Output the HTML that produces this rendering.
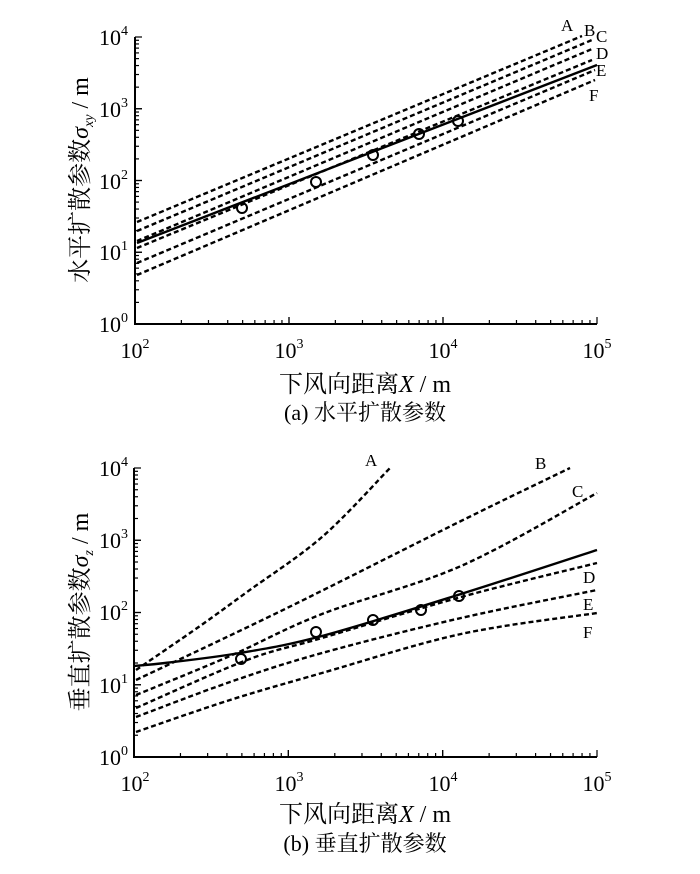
<!DOCTYPE html>
<html><head><meta charset="utf-8"><style>
html,body{margin:0;padding:0;background:#fff;}
svg{display:block;}
text{font-family:"Liberation Serif","Noto Serif CJK SC","Noto Sans CJK SC",serif;fill:#000;}
</style></head><body>
<svg id="s" width="700" height="874" viewBox="0 0 700 874" xmlns="http://www.w3.org/2000/svg">
<g id="g" stroke="#000" fill="none"></g>
<g font-size="22">
<text x="128" y="45" text-anchor="end">10<tspan font-size="14" dy="-10">4</tspan></text>
<text x="128" y="117" text-anchor="end">10<tspan font-size="14" dy="-10">3</tspan></text>
<text x="128" y="189" text-anchor="end">10<tspan font-size="14" dy="-10">2</tspan></text>
<text x="128" y="260" text-anchor="end">10<tspan font-size="14" dy="-10">1</tspan></text>
<text x="128" y="332" text-anchor="end">10<tspan font-size="14" dy="-10">0</tspan></text>
<text x="135" y="358" text-anchor="middle">10<tspan font-size="14" dy="-10">2</tspan></text>
<text x="289" y="358" text-anchor="middle">10<tspan font-size="14" dy="-10">3</tspan></text>
<text x="443" y="358" text-anchor="middle">10<tspan font-size="14" dy="-10">4</tspan></text>
<text x="597" y="358" text-anchor="middle">10<tspan font-size="14" dy="-10">5</tspan></text>
<text x="365" y="392" text-anchor="middle" font-size="24">下风向距离<tspan font-style="italic">X</tspan> / m</text>
<text x="365" y="420" text-anchor="middle" font-size="22">(a) 水平扩散参数</text>
<text transform="translate(88,180) rotate(-90)" text-anchor="middle" font-size="24">水平扩散参数<tspan font-style="italic">σ</tspan><tspan font-size="14" dy="5" font-style="italic">xy</tspan><tspan dy="-5"> / m</tspan></text>
<g font-size="17">
<text x="561" y="31">A</text><text x="584" y="36">B</text><text x="596" y="42">C</text>
<text x="596" y="59">D</text><text x="596" y="76">E</text><text x="589" y="101">F</text>
</g>

<text x="128" y="476" text-anchor="end">10<tspan font-size="14" dy="-10">4</tspan></text>
<text x="128" y="548" text-anchor="end">10<tspan font-size="14" dy="-10">3</tspan></text>
<text x="128" y="620" text-anchor="end">10<tspan font-size="14" dy="-10">2</tspan></text>
<text x="128" y="693" text-anchor="end">10<tspan font-size="14" dy="-10">1</tspan></text>
<text x="128" y="765" text-anchor="end">10<tspan font-size="14" dy="-10">0</tspan></text>
<text x="135" y="791" text-anchor="middle">10<tspan font-size="14" dy="-10">2</tspan></text>
<text x="289" y="791" text-anchor="middle">10<tspan font-size="14" dy="-10">3</tspan></text>
<text x="443" y="791" text-anchor="middle">10<tspan font-size="14" dy="-10">4</tspan></text>
<text x="597" y="791" text-anchor="middle">10<tspan font-size="14" dy="-10">5</tspan></text>
<text x="365" y="822" text-anchor="middle" font-size="24">下风向距离<tspan font-style="italic">X</tspan> / m</text>
<text x="365" y="851" text-anchor="middle" font-size="22">(b) 垂直扩散参数</text>
<text transform="translate(88,612) rotate(-90)" text-anchor="middle" font-size="24">垂直扩散参数<tspan font-style="italic">σ</tspan><tspan font-size="14" dy="5" font-style="italic">z</tspan><tspan dy="-5"> / m</tspan></text>
<g font-size="17">
<text x="365" y="466">A</text><text x="535" y="469">B</text><text x="572" y="497">C</text>
<text x="583" y="583">D</text><text x="583" y="610">E</text><text x="583" y="638">F</text>
</g>
</g>
</svg>
<script>
var g=document.getElementById('g'),NS="http://www.w3.org/2000/svg";
function el(t,a){var e=document.createElementNS(NS,t);for(var k in a)e.setAttribute(k,a[k]);g.appendChild(e);return e;}
function axes(L,R,T,B){
 el('path',{d:'M'+L+' '+T+'V'+B+'H'+R,'stroke-width':2});
 var dx=(R-L)/3,dy=(B-T)/4;
 for(var d=0;d<3;d++)for(var m=1;m<=10;m++){var x=L+dx*(d+Math.log10(m));if(d==2&&m==10)x=R;
  var len=(m==1||m==10)?7:4; el('line',{x1:x,y1:B,x2:x,y2:B-len,'stroke-width':1.2});}
 for(var d=0;d<4;d++)for(var m=1;m<=10;m++){var y=B-dy*(d+Math.log10(m));
  var len=(m==1||m==10)?7:4; el('line',{x1:L,y1:y,x2:L+len,y2:y,'stroke-width':1.2});}
}
function pl(p,dash){
 var d='M'+p[0][0]+' '+p[0][1];
 for(var i=0;i<p.length-1;i++){
  var p0=p[i-1]||p[i],p1=p[i],p2=p[i+1],p3=p[i+2]||p2;
  var c1=[p1[0]+(p2[0]-p0[0])/6,p1[1]+(p2[1]-p0[1])/6],c2=[p2[0]-(p3[0]-p1[0])/6,p2[1]-(p3[1]-p1[1])/6];
  d+='C'+c1.join(' ')+' '+c2.join(' ')+' '+p2.join(' ');
 }
 var a={d:d,'stroke-width':2.4,'stroke-linejoin':'round'};if(dash)a['stroke-dasharray']='5 3';el('path',a);}
function circ(pts){pts.forEach(function(p){el('circle',{cx:p[0],cy:p[1],r:5,'stroke-width':2,fill:'none'});});}
axes(135,597,37,324);
pl([[137,222],[582,36]],1);
pl([[137,231],[592,40]],1);
pl([[137,241],[592,49]],1);
pl([[137,248],[592,60]],1);
pl([[137,263],[595,70]],1);
pl([[137,275],[595,80]],1);
pl([[137,243],[597,65]],0);
circ([[242,208],[316,182],[373,155],[419,134],[458,121]]);
axes(134,597,468,757);
pl([[136,670],[200,626],[247,592],[322,537],[390,468]],1);
pl([[136,680],[285,609],[461,521],[570,468]],1);
pl([[136,695],[230,656],[322,614],[461,566],[597,493]],1);
pl([[136,708],[247,660],[322,638],[461,597],[597,563]],1);
pl([[136,717],[230,682],[322,653],[461,618],[597,590]],1);
pl([[136,732],[230,700],[322,673],[461,634],[597,613]],1);
pl([[134,666],[165,663],[240,653],[322,636],[461,594],[597,550]],0);
circ([[241,659],[316,632],[373,620],[421,610],[459,596]]);
</script>
</body></html>
